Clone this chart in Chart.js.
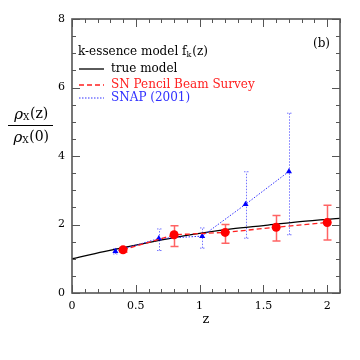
<!DOCTYPE html>
<html><head><meta charset="utf-8">
<script src="https://cdn.jsdelivr.net/npm/chart.js@4.4.1/dist/chart.umd.min.js"></script>
<style>html,body{margin:0;padding:0;background:#fff}#wrap{width:360px;height:360px}</style>
</head><body><div id="wrap"><canvas id="c" width="360" height="360"></canvas></div>
<script>
// ---- data ----
const modelZ   = [0, 0.25, 0.5, 0.75, 1.0, 1.25, 1.5, 1.75, 2.0, 2.1];
const modelRho = [1.0, 1.21, 1.40, 1.58, 1.74, 1.87, 1.97, 2.07, 2.15, 2.18];

const snZ   = [0.4, 0.8, 1.2, 1.6, 2.0];
const snRho = [1.26, 1.70, 1.77, 1.92, 2.06];
const snLo  = [1.19, 1.36, 1.45, 1.52, 1.55];
const snHi  = [1.33, 1.96, 2.00, 2.26, 2.56];

const snapZ   = [0.34, 0.68, 1.02, 1.36, 1.70];
const snapRho = [1.22, 1.59, 1.66, 2.59, 3.55];
const snapLo  = [1.14, 1.24, 1.31, 1.60, 1.70];
const snapHi  = [1.29, 1.87, 1.90, 3.54, 5.25];

const xTicks = [0, 0.5, 1, 1.5, 2];
const yTicks = [0, 2, 4, 6, 8];
const xTickLabels = ['0', '0.5', '1', '1.5', '2'];
const yTickLabels = ['0', '2', '4', '6', '8'];

const legendTitle = 'k-essence model f';
const legendNames = ['true model', 'SN Pencil Beam Survey', 'SNAP (2001)'];
const xTitle = 'z';

const pts = (xs, ys) => xs.map((x, i) => ({x, y: ys[i]}));
const FONT = "'DejaVu Serif', serif";

const framePlugin = {
  id: 'frame',
  beforeDatasetsDraw(chart) {
    const ctx = chart.ctx;
    const xs = chart.scales.x, ys = chart.scales.y;
    ctx.save();
    const bars = (zs, lo, hi, color, dash, cap, lw) => {
      ctx.strokeStyle = color; ctx.lineWidth = lw; ctx.setLineDash(dash);
      zs.forEach((z, i) => {
        const px = Math.round(xs.getPixelForValue(z)) + 0.5;
        const p1 = ys.getPixelForValue(lo[i]), p2 = ys.getPixelForValue(hi[i]);
        ctx.beginPath();
        ctx.moveTo(px, p1); ctx.lineTo(px, p2);
        ctx.moveTo(px - cap, p1); ctx.lineTo(px + cap, p1);
        ctx.moveTo(px - cap, p2); ctx.lineTo(px + cap, p2);
        ctx.stroke();
      });
    };
    bars(snapZ, snapLo, snapHi, 'rgba(60,60,255,0.7)', [1.5, 1.5], 2.5, 1);
    bars(snZ, snLo, snHi, 'rgba(255,60,60,0.8)', [], 4, 1.5);
    ctx.restore();
  },
  afterDraw(chart) {
    const ctx = chart.ctx, ca = chart.chartArea;
    const xs = chart.scales.x, ys = chart.scales.y;
    ctx.save();
    ctx.setLineDash([]);
    ctx.strokeStyle = '#555'; ctx.lineWidth = 1.6;
    ctx.strokeRect(ca.left, ca.top, ca.right - ca.left, ca.bottom - ca.top);
    ctx.lineWidth = 1;
    ctx.beginPath();
    for (let k = 0; k <= 21; k++) {
      const v = k / 10; const px = Math.round(xs.getPixelForValue(v)) + 0.5;
      const L = (k % 5 === 0) ? 8 : 4;
      ctx.moveTo(px, ca.bottom); ctx.lineTo(px, ca.bottom - L);
      ctx.moveTo(px, ca.top); ctx.lineTo(px, ca.top + L);
    }
    for (let k = 0; k <= 16; k++) {
      const v = k / 2; const py = Math.round(ys.getPixelForValue(v)) + 0.5;
      const L = (k % 4 === 0) ? 8 : 4;
      ctx.moveTo(ca.left, py); ctx.lineTo(ca.left + L, py);
      ctx.moveTo(ca.right, py); ctx.lineTo(ca.right - L, py);
    }
    ctx.stroke();

    // x title
    ctx.fillStyle = '#000';
    ctx.textAlign = 'center'; ctx.textBaseline = 'middle';
    ctx.font = "13px " + FONT;
    ctx.fillText(xTitle, (ca.left + ca.right) / 2, 320);

    // legend
    ctx.textAlign = 'left';
    ctx.font = "12px " + FONT;
    ctx.fillText(legendTitle, 78, 52);
    let w = ctx.measureText(legendTitle).width;
    ctx.font = "8px " + FONT;
    ctx.fillText('k', 78 + w, 55);
    let w2 = ctx.measureText('k').width;
    ctx.font = "12px " + FONT;
    ctx.fillText('(z)', 78 + w + w2 + 1, 52);
    ctx.fillText('(b)', 313, 44);

    const rows = [
      {y: 69, color: '#000', dash: [], lw: 1.3},
      {y: 85, color: '#ff2020', dash: [5, 3], lw: 1.3},
      {y: 98, color: '#3030ff', dash: [1.5, 1.5], lw: 1},
    ];
    rows.forEach((r, i) => {
      ctx.strokeStyle = r.color; ctx.lineWidth = r.lw; ctx.setLineDash(r.dash);
      ctx.beginPath(); ctx.moveTo(79, r.y); ctx.lineTo(104, r.y); ctx.stroke();
      ctx.setLineDash([]);
      ctx.fillStyle = r.color;
      ctx.fillText(legendNames[i], 111, r.y);
    });

    // y-axis title (fraction)
    ctx.fillStyle = '#000';
    const drawRho = (cx, cy, arg) => {
      ctx.font = "italic 15px " + FONT;
      const a = ctx.measureText('ρ').width;
      ctx.font = "9px " + FONT;
      const b = ctx.measureText('X').width;
      ctx.font = "14px " + FONT;
      const c = ctx.measureText(arg).width;
      let x0 = cx - (a + b + c) / 2;
      ctx.textAlign = 'left';
      ctx.font = "italic 15px " + FONT; ctx.fillText('ρ', x0, cy + 1);
      ctx.font = "9px " + FONT; ctx.fillText('X', x0 + a, cy + 4);
      ctx.font = "14px " + FONT; ctx.fillText(arg, x0 + a + b + 0.5, cy);
    };
    drawRho(31, 114, '(z)');
    drawRho(31, 137, '(0)');
    ctx.strokeStyle = '#000'; ctx.lineWidth = 1;
    ctx.beginPath(); ctx.moveTo(8, 125.5); ctx.lineTo(53, 125.5); ctx.stroke();
    ctx.restore();
  }
};

new Chart(document.getElementById('c'), {
  type: 'scatter',
  data: {
    datasets: [
      { label: legendNames[0], data: pts(modelZ, modelRho), showLine: true, cubicInterpolationMode: 'monotone',
        borderColor: '#000', borderWidth: 1.3, pointRadius: 0, order: 3 },
      { label: legendNames[1], data: pts(snZ, snRho), showLine: true, borderDash: [5, 3],
        borderColor: '#ff2020', borderWidth: 1.3, pointRadius: 4.5, pointBackgroundColor: '#ff0000',
        pointBorderColor: '#ff0000', pointBorderWidth: 0, order: 1 },
      { label: legendNames[2], data: pts(snapZ, snapRho), showLine: true, borderDash: [1.5, 1.5],
        borderColor: '#3030ff', borderWidth: 1, pointRadius: 3.5, pointStyle: 'triangle',
        pointBackgroundColor: '#0000ff', pointBorderColor: '#0000ff', pointBorderWidth: 0, order: 2 }
    ]
  },
  options: {
    responsive: false, animation: false, devicePixelRatio: 1,
    layout: { padding: { left: 0, top: 19, right: 20, bottom: 0 } },
    plugins: { legend: { display: false }, tooltip: { enabled: false } },
    scales: {
      x: {
        type: 'linear', min: 0, max: 2.1,
        afterBuildTicks: s => { s.ticks = xTicks.map(v => ({value: v})); },
        afterFit: s => { s.height = 67; },
        grid: { display: false, drawTicks: false }, border: { display: false },
        ticks: { padding: 7, color: '#000', font: { family: FONT, size: 11 },
                 callback: (v, i) => xTickLabels[i] }
      },
      y: {
        type: 'linear', min: 0, max: 8,
        afterBuildTicks: s => { s.ticks = yTicks.map(v => ({value: v})); },
        afterFit: s => { s.width = 72; },
        grid: { display: false, drawTicks: false }, border: { display: false },
        ticks: { padding: 7, color: '#000', font: { family: FONT, size: 11 },
                 callback: (v, i) => yTickLabels[i] }
      }
    }
  },
  plugins: [framePlugin]
});
</script>
</body></html>
